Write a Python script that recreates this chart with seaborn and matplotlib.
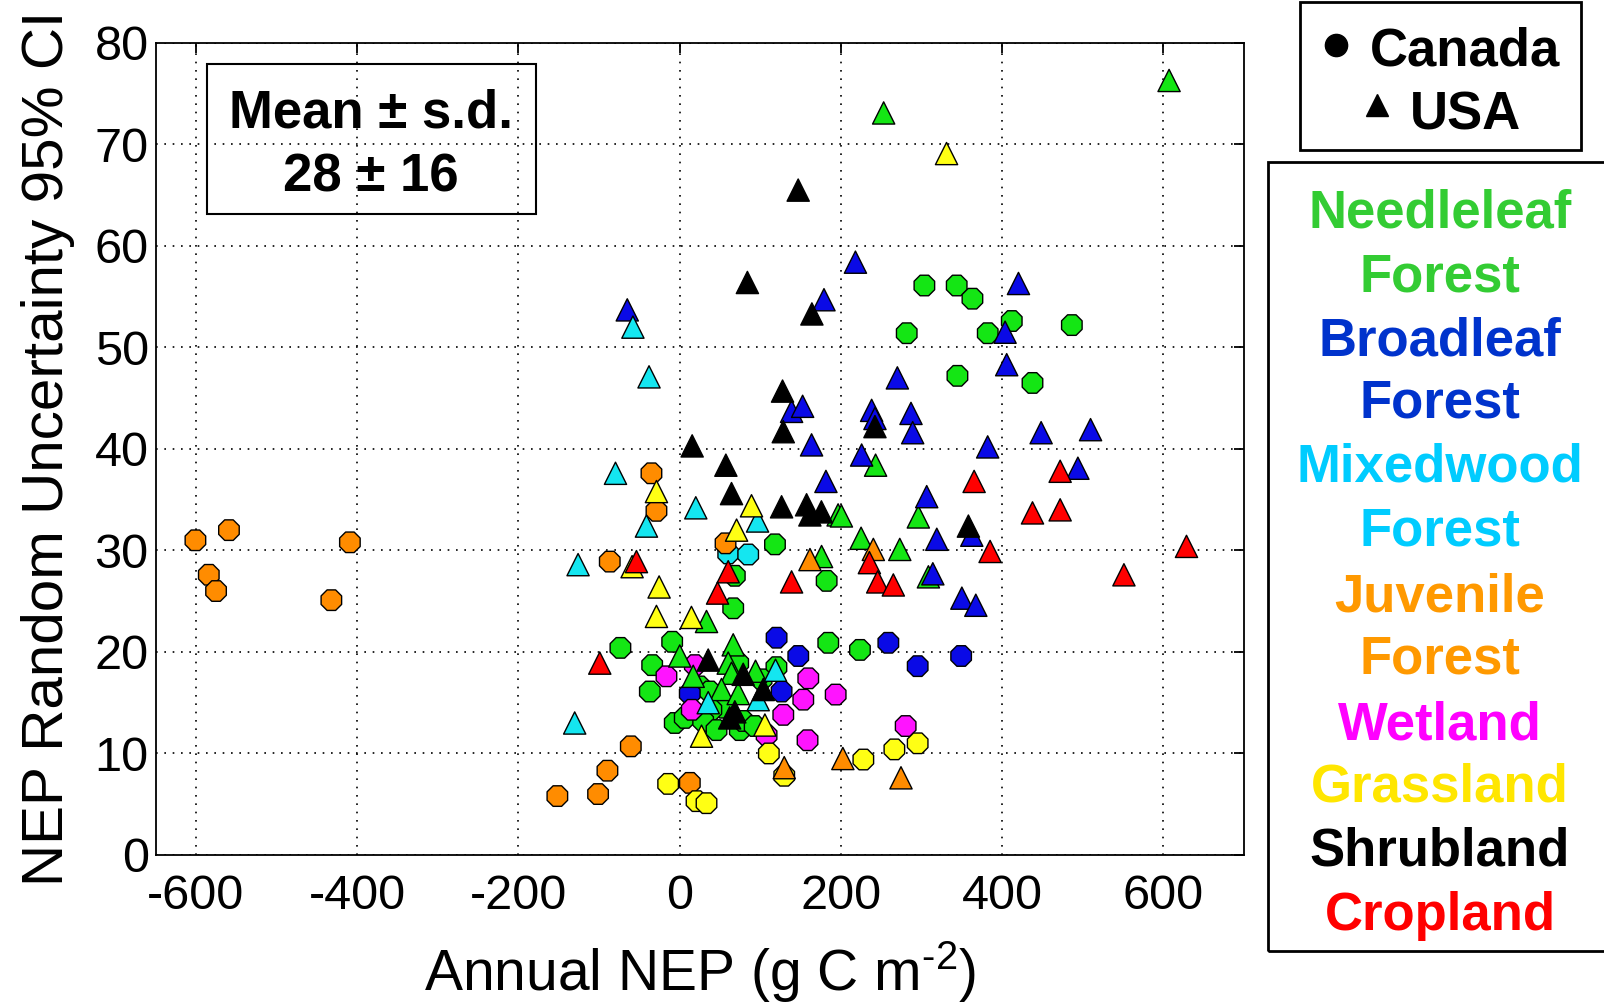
import numpy as np
import pandas as pd
import matplotlib
matplotlib.use('Agg')
import matplotlib.pyplot as plt
from matplotlib.patches import Rectangle
from matplotlib.lines import Line2D
import seaborn as sns

# (annual NEP, random uncertainty 95% CI)
needle_ca = [(303.5, 56.1), (343.6, 56.1), (363.1, 54.8), (281.6, 51.4), (382.1, 51.4),
             (411.9, 52.6), (486.4, 52.2), (344.5, 47.2), (437.6, 46.5),
             (118.2, 30.6), (68.4, 27.5), (182.3, 27.0), (66.4, 24.3), (184.3, 20.9), (223.6, 20.2),
             (-73.5, 20.4), (-9.3, 21.0), (-34.1, 18.7), (-37.0, 16.1), (72.6, 18.9), (120.0, 18.5),
             (101.6, 17.3), (25.0, 16.6), (37.4, 16.1), (55.0, 14.5), (39.3, 14.3), (-6.1, 13.0),
             (6.3, 13.5), (29.1, 13.2), (45.7, 12.3), (74.6, 12.3), (78.8, 13.2), (93.0, 12.7)]
needle_us = [(607.0, 76.3), (253.0, 73.1), (243.0, 38.4), (296.0, 33.3), (196.5, 33.5),
             (200.6, 33.4), (225.0, 31.2), (273.0, 30.1), (176.0, 29.4), (308.5, 27.4),
             (33.3, 23.0), (0.1, 19.6), (66.4, 20.7), (60.2, 18.9), (16.8, 17.6), (64.3, 17.9),
             (94.1, 18.1), (51.9, 16.3), (72.6, 15.9)]
broad_ca = [(120.2, 21.4), (147.1, 19.6), (12.5, 15.9), (126.4, 16.1), (258.8, 20.9),
            (349.1, 19.6), (295.2, 18.6)]
broad_us = [(-65.0, 53.7), (218.0, 58.4), (179.0, 54.7), (420.2, 56.3), (403.6, 51.5),
            (405.6, 48.3), (270.0, 47.0), (138.8, 43.7), (152.5, 44.2), (238.1, 43.8),
            (242.2, 43.0), (286.9, 43.5), (289.0, 41.6), (163.6, 40.4), (382.0, 40.2),
            (448.3, 41.6), (509.6, 41.9), (493.9, 38.1), (225.7, 39.4), (181.4, 36.8),
            (306.4, 35.3), (362.3, 31.5), (318.9, 31.1), (314.0, 27.7), (350.0, 25.3), (367.3, 24.6)]
mixed_ca = [(60.2, 29.7), (85.0, 29.6)]
mixed_us = [(-58.0, 52.0), (-38.0, 47.1), (-79.6, 37.6), (20.0, 34.2), (96.6, 32.9),
            (-41.2, 32.4), (-126.0, 28.6), (-130.2, 13.0), (35.4, 15.0), (97.4, 15.3), (118.9, 18.2)]
juv_ca = [(-600.6, 31.0), (-584.0, 27.6), (-575.0, 26.0), (-559.0, 32.0), (-432.0, 25.1),
          (-409.0, 30.8), (-35.0, 37.6), (-28.8, 33.9), (56.9, 30.7), (-86.7, 28.9),
          (-60.6, 10.7), (-89.6, 8.3), (-151.7, 5.8), (-101.2, 6.0), (12.6, 7.1)]
juv_us = [(240.2, 30.1), (161.6, 29.1), (129.7, 8.6), (202.4, 9.5), (274.5, 7.6)]
wet_ca = [(-16.4, 17.6), (18.8, 18.7), (15.0, 14.3), (159.5, 17.4), (153.3, 15.3), (193.5, 15.8),
          (128.5, 13.8), (158.6, 11.3), (280.3, 12.7), (107.8, 11.8)]
grass_ca = [(-14.3, 7.0), (20.9, 5.3), (33.3, 5.1), (110.6, 10.0), (227.8, 9.4),
            (266.3, 10.4), (295.2, 11.0), (129.7, 7.8)]
grass_us = [(331.0, 69.1), (-28.8, 35.8), (89.1, 34.4), (70.6, 32.0), (-59.0, 28.4),
            (-25.5, 26.4), (-28.8, 23.5), (14.6, 23.4), (27.1, 11.7), (105.7, 12.8)]
shrub_us = [(147.0, 65.5), (84.0, 56.4), (164.0, 53.3), (127.6, 45.7), (128.5, 41.7),
            (242.2, 42.2), (15.5, 40.3), (57.3, 38.4), (64.3, 35.6), (126.4, 34.3),
            (157.4, 34.5), (161.5, 33.5), (175.8, 33.8), (358.1, 32.4), (35.4, 19.2),
            (78.8, 17.8), (103.7, 16.3), (68.4, 14.1), (62.0, 13.5)]
crop_us = [(628.6, 30.4), (551.0, 27.6), (471.9, 37.8), (365.2, 36.8), (437.6, 33.7),
           (471.9, 34.0), (385.0, 29.9), (235.3, 28.8), (245.6, 26.9), (265.0, 26.6),
           (60.2, 27.9), (138.8, 26.9), (47.0, 25.8), (-99.1, 18.9), (-53.6, 28.9)]

covers = ['Needleleaf', 'Broadleaf', 'Mixedwood', 'Juvenile', 'Wetland', 'Grassland', 'Shrubland', 'Cropland']
fill_colors = ['#14e614', '#0a0ae6', '#14e6f0', '#ff8c00', '#ff14ff', '#ffff14', '#000000', '#ff0000']
label_lines = ['Needleleaf', 'Forest', 'Broadleaf', 'Forest', 'Mixedwood', 'Forest',
               'Juvenile', 'Forest', 'Wetland', 'Grassland', 'Shrubland', 'Cropland']
label_colors = ['#33cc33', '#33cc33', '#0033cc', '#0033cc', '#00ccff', '#00ccff',
                '#ff9900', '#ff9900', '#ff00ff', '#ffe600', '#000000', '#ff0000']

groups = [('Canada', 'Needleleaf', needle_ca), ('Canada', 'Broadleaf', broad_ca),
          ('Canada', 'Mixedwood', mixed_ca), ('Canada', 'Juvenile', juv_ca),
          ('Canada', 'Wetland', wet_ca), ('Canada', 'Grassland', grass_ca),
          ('USA', 'Needleleaf', needle_us), ('USA', 'Broadleaf', broad_us),
          ('USA', 'Mixedwood', mixed_us), ('USA', 'Juvenile', juv_us),
          ('USA', 'Grassland', grass_us), ('USA', 'Shrubland', shrub_us),
          ('USA', 'Cropland', crop_us)]
rows = []
for country, cover, pts in groups:
    for x, y in pts:
        rows.append({'nep': x, 'unc': y, 'cover': cover, 'country': country})
df = pd.DataFrame(rows)

sns.set_theme(style='white')
plt.rcParams['font.family'] = ['Liberation Sans', 'DejaVu Sans']
plt.rcParams['mathtext.fontset'] = 'custom'
plt.rcParams['mathtext.rm'] = 'Liberation Sans'
plt.rcParams['mathtext.default'] = 'regular'
plt.rcParams['axes.unicode_minus'] = False
plt.rcParams['text.color'] = 'black'
plt.rcParams['axes.labelcolor'] = 'black'

fig = plt.figure(figsize=(16.04, 10.07), dpi=100)
ax = fig.add_axes([0.097, 0.151, 0.6786, 0.8064])

sns.scatterplot(data=df, x='nep', y='unc', hue='cover', style='country',
                hue_order=covers, palette=dict(zip(covers, fill_colors)),
                markers={'Canada': '8', 'USA': '^'}, s=256,
                edgecolor='black', linewidth=1, legend=False, ax=ax, zorder=3)

ax.set_xlim(-650, 700)
ax.set_ylim(0, 80)
ax.set_xticks([-600, -400, -200, 0, 200, 400, 600])
ax.set_yticks(range(0, 81, 10))
ax.grid(True, linestyle=(0, (1, 4)), color='black', linewidth=1.2)
ax.set_axisbelow(True)
for sp in ax.spines.values():
    sp.set_color('black')
    sp.set_linewidth(1.3)
ax.tick_params(direction='in', length=7, width=1.3, top=True, right=True,
               labelsize=35, colors='black')
ax.tick_params(axis='x', pad=14)
ax.tick_params(axis='y', pad=5)
ax.set_xlabel(r'Annual NEP (g C m$^{\text{-2}}$)', fontsize=41, labelpad=14)
ax.set_ylabel('NEP Random Uncertainty 95% CI', fontsize=42, labelpad=14)

# mean box
fig.add_artist(Rectangle((207 / 1604, 1 - 214 / 1007), 329 / 1604, 150 / 1007,
                         transform=fig.transFigure, fill=False, edgecolor='black', linewidth=1.5))
fig.text(371 / 1604, 1 - 128 / 1007, 'Mean ± s.d.', fontsize=38, fontweight='bold',
         ha='center', va='baseline')
fig.text(371 / 1604, 1 - 191 / 1007, '28 ± 16', fontsize=38, fontweight='bold',
         ha='center', va='baseline')

# country legend
fig.add_artist(Rectangle((1300 / 1604, 1 - 150 / 1007), 281 / 1604, 148 / 1007,
                         transform=fig.transFigure, fill=False, edgecolor='black', linewidth=2))
fig.add_artist(Line2D([1336 / 1604], [1 - 45 / 1007], marker='o', markersize=16,
                      color='black', transform=fig.transFigure))
fig.add_artist(Line2D([1377 / 1604], [1 - 105 / 1007], marker='^', markersize=16,
                      color='black', transform=fig.transFigure))
fig.text(1370 / 1604, 1 - 66 / 1007, 'Canada', fontsize=38, fontweight='bold', ha='left', va='baseline')
fig.text(1410 / 1604, 1 - 129 / 1007, 'USA', fontsize=38, fontweight='bold', ha='left', va='baseline')

# land cover legend
fig.add_artist(Rectangle((1268 / 1604, 1 - 951 / 1007), 340 / 1604, 789 / 1007,
                         transform=fig.transFigure, fill=False, edgecolor='black', linewidth=2))
base_y = [228, 292, 355, 418, 482, 546, 611, 674, 739, 802, 866, 930]
for txt, col, by in zip(label_lines, label_colors, base_y):
    fig.text(1440 / 1604, 1 - by / 1007, txt, fontsize=38, fontweight='bold', color=col,
             ha='center', va='baseline')

fig.savefig('out.png', dpi=100, facecolor='white')
